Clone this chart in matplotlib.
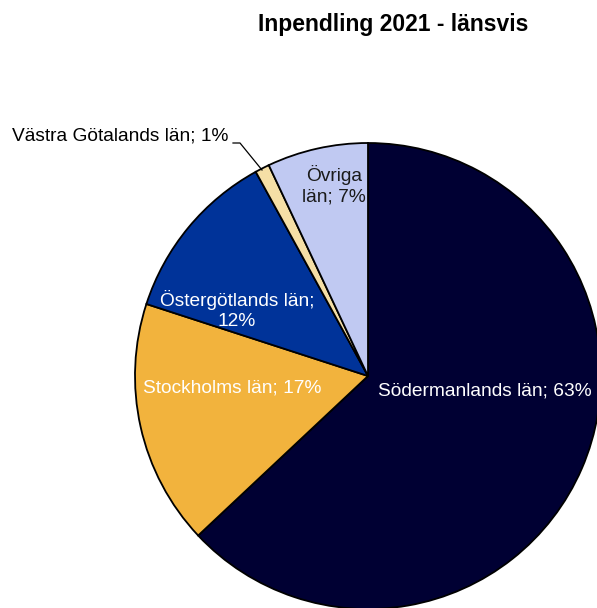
import matplotlib.pyplot as plt

plt.rcParams['font.family'] = ['Liberation Sans', 'DejaVu Sans']

names = ['Södermanlands län', 'Stockholms län', 'Östergötlands län', 'Västra Götalands län', 'Övriga län']
shares = [63, 17, 12, 1, 7]
colors = ['#000033', '#F2B33D', '#003399', '#F5DFA6', '#C0C9F2']

H = 608
fig = plt.figure(figsize=(5.97, 6.08), dpi=100)
ax = fig.add_axes([0, 0, 1, 1])

wedges, _ = ax.pie(shares, colors=colors, startangle=90, counterclock=False,
                   center=(368, H - 376), radius=233, frame=True,
                   wedgeprops=dict(edgecolor='black', linewidth=1.3))
ax.set_xlim(0, 597)
ax.set_ylim(0, H)
ax.set_aspect('equal')
ax.axis('off')

fs = 13.8
ax.text(485, H - 391, f'{names[0]}; {shares[0]}%', color='white', fontsize=fs, ha='center', va='center')
ax.text(232, H - 388, f'{names[1]}; {shares[1]}%', color='white', fontsize=fs, ha='center', va='center')
ax.text(237, H - 310, f'{names[2]};\n{shares[2]}%', color='white', fontsize=fs, ha='center', va='center', linespacing=1.25)
ax.text(334, H - 185, f'Övriga\nlän; {shares[4]}%', color='#1a1a1a', fontsize=fs, ha='center', va='center', linespacing=1.25)
ax.text(120, H - 136, f'{names[3]}; {shares[3]}%', color='black', fontsize=fs, ha='center', va='center')
ax.plot([233, 240, 262], [H - 143, H - 143, H - 170], color='black', linewidth=0.9)

fig.text(393 / 597, 1 - 24 / H, 'Inpendling 2021 - länsvis', fontsize=16.5,
         fontweight='bold', ha='center', va='center')

fig.savefig('out.png', dpi=100)
